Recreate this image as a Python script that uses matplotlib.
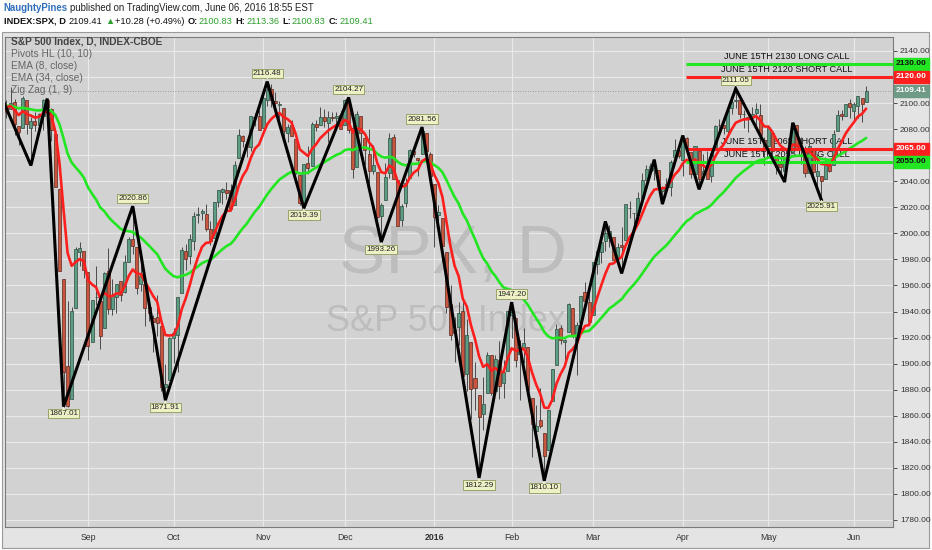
import numpy as np
import pandas as pd
import matplotlib
matplotlib.use("Agg")
import matplotlib.pyplot as plt
from matplotlib.patches import Rectangle

plt.rcParams['font.family'] = ['Liberation Sans', 'DejaVu Sans']

# --- daily OHLC, S&P 500, Aug 3 2015 .. Jun 6 2016 (one row per month) ---
opens = [
    2104.49, 2097.68, 2095.27, 2100.75, 2082.61, 2080.98, 2102.66, 2081.10, 2086.19, 2083.15, 2089.70, 2101.99, 2095.69, 2076.61, 2034.08, 1965.15, 1898.08, 1872.75, 1942.77, 1986.06, 1986.73,
    1970.09, 1916.52, 1950.79, 1947.76, 1927.30, 1971.45, 1941.59, 1951.45, 1963.06, 1955.10, 1978.02, 1995.33, 1989.66, 1960.84, 1961.39, 1943.24, 1934.81, 1935.93, 1929.18, 1881.90, 1887.14,
    1919.65, 1921.77, 1954.33, 1986.63, 1982.34, 1994.01, 2013.73, 2015.65, 2015.00, 2003.66, 1996.47, 2024.37, 2031.73, 2033.13, 2033.47, 2021.88, 2058.19, 2075.08, 2068.75, 2066.48, 2088.35, 2090.00,
    2080.76, 2102.63, 2110.60, 2101.68, 2098.60, 2096.56, 2077.19, 2083.41, 2072.29, 2044.64, 2022.08, 2053.67, 2051.99, 2083.70, 2082.82, 2089.41, 2084.42, 2089.30, 2088.82, 2090.95,
    2082.93, 2101.71, 2080.71, 2051.24, 2090.42, 2073.39, 2061.17, 2047.93, 2047.27, 2013.37, 2025.55, 2046.50, 2073.76, 2040.81, 2010.27, 2023.15, 2042.20, 2063.52, 2057.77, 2060.54, 2077.34, 2060.59,
    2038.20, 2013.78, 2011.71, 1985.32, 1945.97, 1926.12, 1927.83, 1940.34, 1891.68, 1916.68, 1888.66, 1876.18, 1861.46, 1877.40, 1906.28, 1878.79, 1902.52, 1885.22, 1894.00,
    1936.94, 1935.26, 1907.07, 1911.67, 1913.07, 1873.25, 1848.46, 1857.10, 1847.00, 1833.40, 1871.44, 1898.80, 1927.57, 1916.74, 1924.44, 1942.38, 1917.56, 1931.87, 1954.95, 1947.13,
    1937.09, 1976.60, 1985.60, 1994.01, 1996.11, 1996.88, 1981.44, 1990.97, 1994.71, 2019.27, 2015.27, 2014.24, 2026.90, 2041.16, 2047.88, 2048.64, 2048.55, 2032.48, 2037.89, 2035.75, 2058.27, 2063.77,
    2056.62, 2073.19, 2062.50, 2045.56, 2063.01, 2045.54, 2050.23, 2043.72, 2065.92, 2082.89, 2083.10, 2078.83, 2096.05, 2101.52, 2102.09, 2091.49, 2089.37, 2089.84, 2092.57, 2090.93, 2071.82,
    2067.17, 2077.18, 2060.30, 2052.95, 2047.77, 2057.55, 2062.63, 2083.29, 2067.17, 2062.50, 2046.53, 2065.04, 2044.38, 2044.21, 2041.88, 2052.23, 2052.65, 2078.93, 2091.44, 2090.06, 2100.13,
    2093.94, 2097.71, 2104.07, 2100.83,
]
highs = [
    2105.70, 2102.51, 2112.66, 2103.32, 2082.61, 2105.35, 2102.66, 2089.06, 2092.93, 2092.45, 2102.87, 2103.47, 2096.17, 2076.61, 2034.08, 1965.15, 1948.04, 1943.09, 1989.60, 1993.48, 1986.73,
    1970.09, 1948.91, 1975.01, 1947.76, 1970.42, 1988.63, 1965.29, 1961.05, 1963.06, 1983.19, 1997.26, 2020.86, 1989.66, 1979.64, 1961.39, 1949.52, 1937.17, 1952.89, 1929.18, 1899.48, 1920.53,
    1927.21, 1951.36, 1989.17, 1991.62, 1999.31, 2016.50, 2020.13, 2018.66, 2022.34, 2009.56, 2024.15, 2033.54, 2034.45, 2039.12, 2037.97, 2055.20, 2079.74, 2075.14, 2070.37, 2090.35, 2092.52, 2094.32,
    2106.20, 2116.48, 2114.59, 2108.78, 2101.91, 2096.56, 2083.67, 2086.94, 2072.29, 2044.64, 2053.22, 2066.69, 2085.31, 2086.74, 2097.06, 2095.61, 2094.12, 2093.00, 2093.29, 2093.81,
    2103.37, 2104.27, 2085.00, 2093.84, 2090.42, 2073.85, 2080.33, 2067.65, 2047.27, 2022.92, 2053.87, 2076.72, 2076.37, 2040.81, 2022.90, 2042.74, 2064.73, 2067.36, 2057.77, 2081.56, 2077.34, 2062.54,
    2038.20, 2021.94, 2011.71, 1985.32, 1960.40, 1935.65, 1947.38, 1950.33, 1934.47, 1916.68, 1901.44, 1876.18, 1889.85, 1908.85, 1906.28, 1906.73, 1916.99, 1902.96, 1940.24,
    1947.20, 1935.26, 1918.01, 1927.35, 1913.07, 1873.25, 1868.25, 1881.60, 1847.00, 1864.78, 1895.77, 1930.68, 1930.00, 1918.78, 1946.70, 1942.38, 1932.08, 1951.83, 1962.96, 1958.27,
    1978.35, 1986.51, 1993.69, 2009.13, 2006.12, 1996.88, 1992.69, 2005.08, 2022.37, 2024.57, 2015.94, 2032.02, 2046.24, 2052.36, 2053.91, 2056.60, 2048.55, 2036.04, 2042.67, 2055.91, 2072.21, 2067.92,
    2075.07, 2074.02, 2062.50, 2067.33, 2063.01, 2060.63, 2062.93, 2065.05, 2083.18, 2087.84, 2083.22, 2094.66, 2104.05, 2111.05, 2103.78, 2094.32, 2089.37, 2096.87, 2099.89, 2099.30, 2073.85,
    2083.42, 2077.18, 2060.30, 2060.23, 2057.72, 2064.15, 2084.87, 2083.29, 2073.99, 2066.79, 2071.88, 2065.69, 2060.61, 2044.21, 2058.35, 2055.58, 2079.67, 2094.73, 2094.30, 2099.06, 2103.48,
    2100.97, 2105.26, 2104.07, 2113.36,
]
lows = [
    2087.31, 2088.60, 2095.27, 2075.53, 2067.91, 2080.98, 2076.49, 2052.09, 2078.26, 2080.61, 2079.30, 2094.14, 2070.53, 2035.66, 1970.89, 1867.01, 1867.08, 1872.75, 1942.77, 1975.19, 1965.98,
    1903.07, 1916.52, 1944.72, 1911.21, 1927.30, 1937.88, 1937.19, 1939.19, 1948.27, 1954.30, 1977.93, 1984.04, 1953.45, 1955.80, 1929.22, 1932.57, 1908.92, 1921.50, 1879.21, 1871.91, 1887.14,
    1900.70, 1893.70, 1954.33, 1971.99, 1976.44, 1987.53, 2007.61, 2010.55, 2001.78, 1990.73, 1996.47, 2020.46, 2022.31, 2026.61, 2017.22, 2021.88, 2058.19, 2066.53, 2058.84, 2063.11, 2082.63, 2079.34,
    2080.76, 2097.51, 2096.98, 2090.41, 2083.74, 2068.24, 2069.91, 2074.85, 2045.66, 2022.02, 2019.39, 2045.90, 2051.99, 2078.76, 2082.82, 2081.39, 2070.29, 2086.30, 2084.13, 2080.41,
    2082.93, 2077.11, 2042.35, 2051.24, 2066.78, 2052.32, 2036.53, 2045.67, 2008.80, 1993.26, 2025.55, 2042.43, 2041.66, 2005.33, 2005.93, 2020.49, 2042.20, 2058.73, 2044.20, 2060.54, 2061.97, 2043.62,
    1989.68, 2004.17, 1979.05, 1938.83, 1918.46, 1901.10, 1914.35, 1886.41, 1878.93, 1857.83, 1864.60, 1812.29, 1848.98, 1877.40, 1875.97, 1878.79, 1872.70, 1873.65, 1894.00,
    1920.03, 1897.29, 1872.23, 1900.52, 1872.65, 1828.46, 1834.94, 1850.32, 1810.10, 1833.40, 1871.44, 1898.80, 1915.09, 1902.17, 1924.44, 1919.44, 1891.00, 1925.41, 1945.78, 1931.81,
    1937.09, 1968.80, 1977.37, 1986.77, 1989.38, 1977.43, 1979.84, 1969.25, 1994.71, 2012.05, 2005.23, 2010.04, 2022.16, 2041.16, 2043.14, 2040.57, 2034.86, 2022.49, 2031.96, 2028.31, 2058.27, 2057.46,
    2043.98, 2062.57, 2042.56, 2043.09, 2033.80, 2041.69, 2041.88, 2039.74, 2065.92, 2078.13, 2076.31, 2073.65, 2091.68, 2096.32, 2088.52, 2081.20, 2077.52, 2085.80, 2082.31, 2071.62, 2052.28,
    2066.11, 2054.89, 2045.55, 2045.77, 2039.45, 2054.31, 2062.63, 2064.46, 2053.13, 2043.13, 2046.53, 2040.82, 2034.49, 2025.91, 2041.88, 2047.26, 2052.65, 2078.93, 2087.08, 2090.06, 2088.66,
    2085.10, 2088.59, 2085.36, 2100.83,
]
closes = [
    2098.04, 2093.32, 2099.84, 2083.56, 2077.57, 2104.18, 2084.07, 2086.05, 2083.39, 2091.54, 2102.44, 2096.92, 2079.61, 2035.73, 1970.89, 1893.21, 1867.61, 1940.51, 1987.66, 1988.87, 1972.18,
    1913.85, 1948.86, 1951.13, 1921.22, 1969.41, 1942.04, 1952.29, 1961.05, 1953.03, 1978.09, 1995.31, 1990.20, 1958.03, 1966.97, 1942.74, 1938.76, 1932.24, 1931.34, 1881.77, 1884.09, 1920.03,
    1923.82, 1951.36, 1987.05, 1979.92, 1995.83, 2013.43, 2014.89, 2017.46, 2003.69, 1994.24, 2023.86, 2033.11, 2033.66, 2030.77, 2018.94, 2052.51, 2075.15, 2071.18, 2065.89, 2090.35, 2089.41, 2079.36,
    2104.05, 2109.79, 2102.31, 2099.93, 2099.20, 2078.58, 2081.72, 2075.00, 2045.97, 2023.04, 2053.19, 2050.44, 2083.58, 2081.24, 2089.17, 2086.59, 2089.14, 2088.87, 2090.11, 2080.41,
    2102.63, 2079.51, 2049.62, 2091.69, 2077.07, 2063.59, 2047.62, 2052.23, 2012.37, 2021.94, 2043.41, 2073.07, 2041.89, 2005.55, 2021.15, 2038.97, 2064.29, 2060.99, 2056.50, 2078.36, 2063.36, 2043.94,
    2012.66, 2016.71, 1990.26, 1943.09, 1922.03, 1923.67, 1938.68, 1890.28, 1921.84, 1880.33, 1881.33, 1859.33, 1868.99, 1906.90, 1877.08, 1903.63, 1882.95, 1893.36, 1940.24,
    1939.38, 1903.03, 1912.53, 1915.45, 1880.05, 1853.44, 1852.21, 1851.86, 1829.08, 1864.78, 1895.58, 1926.82, 1917.83, 1917.78, 1945.50, 1921.27, 1929.80, 1951.70, 1948.05, 1932.23,
    1978.35, 1986.45, 1993.40, 1999.99, 2001.76, 1979.26, 1989.26, 1989.57, 2022.19, 2019.64, 2015.93, 2027.22, 2040.59, 2049.58, 2051.60, 2049.80, 2036.71, 2035.94, 2037.05, 2055.01, 2063.95, 2059.74,
    2072.78, 2066.13, 2045.17, 2066.66, 2041.91, 2047.60, 2041.99, 2061.72, 2082.42, 2082.78, 2080.73, 2094.34, 2100.80, 2102.40, 2091.48, 2091.58, 2087.79, 2091.70, 2095.15, 2075.81, 2065.30,
    2081.43, 2063.37, 2051.12, 2050.63, 2057.14, 2058.69, 2084.39, 2064.46, 2064.11, 2046.61, 2066.66, 2047.21, 2047.63, 2040.04, 2052.32, 2048.04, 2076.06, 2090.54, 2090.10, 2099.06, 2096.95,
    2099.33, 2105.26, 2099.13, 2109.41,
]

holidays = ['2015-09-07', '2015-11-26', '2015-12-25', '2016-01-01', '2016-01-18',
            '2016-02-15', '2016-03-25', '2016-05-30']

# zig zag turning points
zz_dates = ['2015-08-03', '2015-08-12', '2015-08-18', '2015-08-24', '2015-09-17', '2015-09-29',
            '2015-11-03', '2015-11-16', '2015-12-02', '2015-12-14', '2015-12-29', '2016-01-20',
            '2016-02-01', '2016-02-11', '2016-03-04', '2016-03-10', '2016-03-22', '2016-03-24',
            '2016-04-01', '2016-04-07', '2016-04-20', '2016-05-06', '2016-05-10', '2016-05-19']
zz_prices = [2103.0, 2052.09, 2103.47, 1867.01, 2020.86, 1871.91, 2116.48, 2019.39, 2104.27,
             1993.26, 2081.56, 1812.29, 1947.20, 1810.10, 2009.13, 1969.25, 2056.60, 2022.49,
             2075.07, 2033.80, 2111.05, 2039.45, 2084.87, 2025.91]

# labelled pivots (H = high, L = low)
piv_dates = ['2015-08-24', '2015-09-17', '2015-09-29', '2015-11-03', '2015-11-16', '2015-12-02',
             '2015-12-14', '2015-12-29', '2016-01-20', '2016-02-01', '2016-02-11', '2016-04-20',
             '2016-05-19']
piv_prices = [1867.01, 2020.86, 1871.91, 2116.48, 2019.39, 2104.27, 1993.26, 2081.56, 1812.29,
              1947.20, 1810.10, 2111.05, 2025.91]
piv_kind = ['L', 'H', 'L', 'H', 'L', 'H', 'L', 'H', 'L', 'H', 'L', 'H', 'L']

# drawn horizontal levels
lvl_prices = [2130, 2120, 2065, 2055]
lvl_text = ['JUNE 15TH 2130 LONG CALL', 'JUNE 15TH 2120 SHORT CALL',
            'JUNE 15TH 2065 SHORT CALL', 'JUNE 15TH 2055 LONG CALL']
lvl_colors = ['#22e622', '#ff1f1f', '#ff1f1f', '#22e622']
lvl_start = '2016-04-01'
last_price = 2109.41

GREEN = '#22e622'
RED = '#ff1f1f'

dates = pd.bdate_range('2015-08-03', '2016-06-06')
dates = dates[~dates.isin(pd.to_datetime(holidays))]
pos = {d.strftime('%Y-%m-%d'): i for i, d in enumerate(dates)}
n = len(closes)
x = np.arange(n)

fig = plt.figure(figsize=(9.32, 5.5), dpi=100)
fig.patch.set_facecolor('white')

def fx(px):
    return px / 932.0

def fy(py):
    return 1 - py / 550.0

fig.patches.append(Rectangle((fx(2), fy(548)), fx(927), 516 / 550.0, transform=fig.transFigure,
                             facecolor='#e4e4e4', edgecolor='#9a9a9a', lw=0.8, zorder=-5))

ax = fig.add_axes([fx(5), fy(527), fx(888), 490 / 550.0])
ax.set_facecolor('#d2d2d2')
ax.set_xlim(0.64, 218.6)
ax.set_ylim(1774.6, 2150.7)

# grid
yt = np.arange(1780, 2141, 20)
for v in yt:
    ax.axhline(v, color='#e9e9e9', lw=0.8, zorder=0)
month_idx = [i for i in range(1, n) if dates[i].month != dates[i - 1].month]
month_lab = [dates[i].strftime('%b') if dates[i].month != 1 else str(dates[i].year) for i in month_idx]
for i in month_idx:
    ax.axvline(i, color='#e9e9e9', lw=0.8, zorder=0)

# watermark
ax.text(0.5045, 0.555, 'SPX, D', transform=ax.transAxes, ha='center', va='center',
        fontsize=50, color='#bdbdbd', zorder=0.5)
ax.text(0.497, 0.42, 'S&P 500 Index', transform=ax.transAxes, ha='center', va='center',
        fontsize=26, color='#bdbdbd', zorder=0.5)

# level labels (behind candles)
for p, t in zip(lvl_prices, lvl_text):
    ax.text(192.5, p + 2.2, t, ha='center', va='bottom', fontsize=6.6, color='#111', zorder=1)

# candles
o = np.array(opens); h = np.array(highs); l = np.array(lows); c = np.array(closes)
up = c >= o
ax.vlines(x, l, h, color='#4a4a4a', lw=0.7, zorder=2)
ax.bar(x[up], (c - o)[up], bottom=o[up], width=0.74, color='#5c9e83', edgecolor='#2d4a3d', lw=0.5, zorder=3)
ax.bar(x[~up], (o - c)[~up], bottom=c[~up], width=0.74, color='#c9553f', edgecolor='#5b2a20', lw=0.5, zorder=3)

# EMAs
ema8 = pd.Series(c).ewm(span=8, adjust=False).mean()
ema34 = pd.Series(c).ewm(span=34, adjust=False).mean()
ax.plot(x, ema34, color=GREEN, lw=1.9, zorder=4, solid_capstyle='round')
ax.plot(x, ema8, color=RED, lw=1.9, zorder=4, solid_capstyle='round')

# horizontal levels
xs = pos[lvl_start] + 0.8
for p, col in zip(lvl_prices, lvl_colors):
    ax.plot([xs, 218.6], [p, p], color=col, lw=2.2, zorder=5, solid_capstyle='butt')

ax.axhline(last_price, color='#8a8a8a', lw=0.6, ls=(0, (1, 2)), zorder=1)

# zig zag
ax.plot([pos[d] for d in zz_dates], zz_prices, color='black', lw=2.2, zorder=6,
        solid_joinstyle='miter')

# pivot labels
for d, p, k in zip(piv_dates, piv_prices, piv_kind):
    off = 3.2 if k == 'H' else -2.6
    ax.annotate(f'{p:.2f}', (pos[d], p), xytext=(0, off), textcoords='offset points',
                ha='center', va='bottom' if k == 'H' else 'top', fontsize=5.8, color='#222',
                bbox=dict(boxstyle='square,pad=0.15', fc='#eef0c6', ec='#8c9a5a', lw=0.6), zorder=7)
    ax.annotate('', (pos[d], p), xytext=(0, off * 1.3), textcoords='offset points', zorder=7,
                arrowprops=dict(arrowstyle='-|>', color='#eef0c6', lw=0.5, mutation_scale=4))

# axes styling; ticks hidden under the level boxes are left blank
ax.yaxis.tick_right()
ax.set_yticks(yt)
ax.set_yticklabels(['' if v in (2060, 2120) else f'{v:.2f}' for v in yt])
ax.set_xticks(month_idx)
ax.set_xticklabels(month_lab)
for lab in ax.get_xticklabels():
    if lab.get_text() == '2016':
        lab.set_fontweight('bold')
ax.tick_params(axis='y', labelsize=6.0, colors='#333', length=3, width=0.6, pad=2)
ax.tick_params(axis='x', labelsize=6.3, colors='#333', length=0, pad=4)
for s in ax.spines.values():
    s.set_color('#7a7a7a')
    s.set_linewidth(0.8)

# price boxes on the axis
boxes = [(2130, '2130.00', GREEN, '#111'), (2120, '2120.00', RED, 'white'),
         (last_price, f'{last_price:.2f}', '#6f9a86', 'white'),
         (2065, '2065.00', RED, 'white'), (2055, '2055.00', GREEN, '#111')]
for p, t, fc, tc in boxes:
    ax.annotate(t, (1.0, p), xycoords=('axes fraction', 'data'), xytext=(2.2, 0),
                textcoords='offset points', ha='left', va='center', fontsize=6.0, color=tc,
                fontweight='bold',
                bbox=dict(boxstyle='square,pad=0.3', fc=fc, ec=fc), zorder=10, annotation_clip=False)

# legend text
leg = ['S&P 500 Index, D, INDEX-CBOE', 'Pivots HL (10, 10)', 'EMA (8, close)',
       'EMA (34, close)', 'Zig Zag (1, 9)']
for j, t in enumerate(leg):
    fig.text(fx(11), fy(42 + 12 * j), t, ha='left', va='center', fontsize=7.3,
             color='#444' if j == 0 else '#666', fontweight='bold' if j == 0 else 'normal')

# header, laid out piece by piece
renderer = fig.canvas.get_renderer()

def text_row(x0, y0, pieces, size):
    cur = x0
    for t, col, fw, gap in pieces:
        tx = fig.text(fx(cur), fy(y0), t, fontsize=size, color=col, fontweight=fw, va='center',
                      family=['Liberation Sans', 'DejaVu Sans'])
        bb = tx.get_window_extent(renderer=renderer)
        cur += bb.width + gap

text_row(3, 8, [('NaughtyPines', '#2f6fbf', 'bold', 3),
                ('published on TradingView.com, June 06, 2016 18:55 EST', '#222', 'normal', 0)], 6.9)
text_row(4, 21, [('INDEX:SPX, D', '#111', 'bold', 3), ('2109.41', '#111', 'normal', 2),
                 ('\u25b2', '#2ca02c', 'normal', 1), ('+10.28 (+0.49%)', '#111', 'normal', 3),
                 ('O:', '#111', 'bold', 1), ('2100.83', '#2ca02c', 'normal', 3),
                 ('H:', '#111', 'bold', 1), ('2113.36', '#2ca02c', 'normal', 3),
                 ('L:', '#111', 'bold', 1), ('2100.83', '#2ca02c', 'normal', 3),
                 ('C:', '#111', 'bold', 1), ('2109.41', '#2ca02c', 'normal', 0)], 6.7)

fig.savefig('out.png', dpi=100)
